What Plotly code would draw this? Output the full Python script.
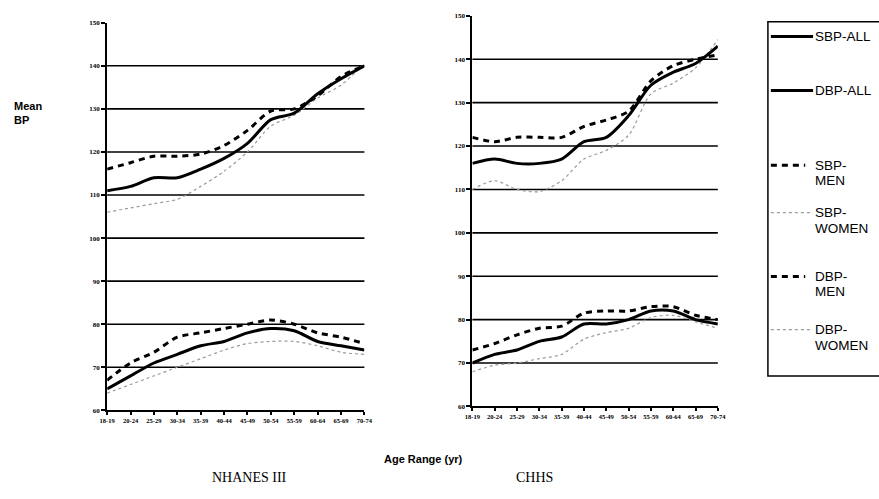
import plotly.graph_objects as go

# Age bands shared by both surveys
age_groups = ["18-19", "20-24", "25-29", "30-34", "35-39", "40-44",
              "45-49", "50-54", "55-59", "60-64", "65-69", "70-74"]

# NHANES III mean blood pressure (mmHg)
nh_sbp_all = [111, 112, 114, 114, 116, 118.5, 122, 127.5, 129, 133.5, 137, 140]
nh_dbp_all = [65, 68, 71, 73, 75, 76, 78, 79, 78.5, 76, 75, 74]
nh_sbp_men = [116, 117.5, 119, 119, 119.5, 121.5, 125, 129.5, 130, 133, 137.5, 140]
nh_sbp_women = [106, 107, 108, 109, 112, 115.5, 120, 126, 128.5, 132.5, 135.5, 140.5]
nh_dbp_men = [67, 71, 73.5, 77, 78, 79, 80, 81, 80, 78, 77, 75.5]
nh_dbp_women = [64, 66, 68, 70, 72, 74, 75.5, 76, 76, 75, 73.5, 73]

# CHHS mean blood pressure (mmHg)
ch_sbp_all = [116, 117, 116, 116, 117, 121, 122, 127, 134, 137, 139, 143]
ch_dbp_all = [70, 72, 73, 75, 76, 79, 79, 80, 82, 82, 80, 79]
ch_sbp_men = [122, 121, 122, 122, 122, 124.5, 126, 128, 135, 138.5, 140, 141]
ch_sbp_women = [110, 112, 110, 109.5, 112, 117, 119, 122.5, 132, 134.5, 138, 144.5]
ch_dbp_men = [73, 74.5, 76.5, 78, 78.5, 81.5, 82, 82, 83, 83, 81, 80]
ch_dbp_women = [68, 69.5, 70, 71, 72, 75.5, 77, 78, 80.5, 81, 79.5, 78]

y_ticks = list(range(60, 151, 10))
grid_levels = list(range(70, 141, 10))

W, H = 879, 499

styles = {
    "all": dict(color="black", width=3),
    "men": dict(color="black", width=3, dash="6px,5px"),
    "women": dict(color="#9a9a9a", width=1.2, dash="dot"),
}

xi = list(range(len(age_groups)))

fig = go.Figure()

def add_series(ys, kind, xa, ya):
    fig.add_trace(go.Scatter(
        x=xi, y=ys, mode="lines", line=dict(shape="spline", smoothing=0.8, **styles[kind]),
        xaxis=xa, yaxis=ya, showlegend=False, hoverinfo="skip"))

for ys, kind in [(nh_sbp_women, "women"), (nh_dbp_women, "women"),
                 (nh_sbp_men, "men"), (nh_dbp_men, "men"),
                 (nh_sbp_all, "all"), (nh_dbp_all, "all")]:
    add_series(ys, kind, "x", "y")

for ys, kind in [(ch_sbp_women, "women"), (ch_dbp_women, "women"),
                 (ch_sbp_men, "men"), (ch_dbp_men, "men"),
                 (ch_sbp_all, "all"), (ch_dbp_all, "all")]:
    add_series(ys, kind, "x2", "y2")

def px_x(v):
    return v / W

def px_y(v):
    return 1 - v / H

tick_font = dict(family="Liberation Serif", size=6.5, color="black", weight="bold")

xaxis_common = dict(
    tickmode="array", tickvals=xi, ticktext=age_groups, range=[0, len(age_groups) - 1],
    showgrid=False, zeroline=False, showline=True, linecolor="black", linewidth=2,
    ticks="outside", ticklen=3, tickwidth=1.5, tickcolor="black", tickfont=tick_font,
    tickangle=0,
)
yaxis_common = dict(
    tickmode="array", tickvals=y_ticks, range=[60, 150],
    showgrid=False, zeroline=False, showline=True, linecolor="black", linewidth=2,
    ticks="outside", ticklen=4, tickwidth=1.5, tickcolor="black",
    tickfont=dict(tick_font, size=7),
)

fig.update_layout(
    width=W, height=H, margin=dict(l=0, r=0, t=0, b=0),
    paper_bgcolor="white", plot_bgcolor="white",
    xaxis=dict(domain=[px_x(101), px_x(363)], anchor="y", **xaxis_common),
    yaxis=dict(domain=[px_y(413), px_y(19)], anchor="x", **yaxis_common),
    xaxis2=dict(domain=[px_x(473), px_x(723)], anchor="y2", **xaxis_common),
    yaxis2=dict(domain=[px_y(409), px_y(12)], anchor="x2", **yaxis_common),
)

shapes = []
# horizontal reference lines in each panel
for ax in ["", "2"]:
    for g in grid_levels:
        shapes.append(dict(type="line", xref=f"x{ax} domain", yref=f"y{ax}",
                           x0=0, x1=1, y0=g, y1=g, line=dict(color="black", width=1.6),
                           layer="below"))

# legend frame (runs off the right edge)
shapes.append(dict(type="rect", xref="paper", yref="paper",
                   x0=px_x(774), x1=px_x(890), y0=px_y(378), y1=px_y(18),
                   line=dict(color="black", width=1.5)))

# (text lines, style, sample y, y of each text line)
legend_items = [
    (["SBP-ALL"], "all", 33, [33]),
    (["DBP-ALL"], "all", 88, [88]),
    (["SBP-", "MEN"], "men", 164, [164, 179]),
    (["SBP-", "WOMEN"], "women", 212, [212, 228]),
    (["DBP-", "MEN"], "men", 277, [277, 292]),
    (["DBP-", "WOMEN"], "women", 331, [331, 347]),
]
annotations = []
for lines, kind, ly, tys in legend_items:
    st = styles[kind]
    shapes.append(dict(type="line", xref="paper", yref="paper",
                       x0=px_x(777), x1=px_x(820 if kind != "men" else 812),
                       y0=px_y(ly), y1=px_y(ly),
                       line=dict(color=st["color"], width=st["width"] if kind != "women" else 1.2,
                                 dash=st.get("dash", "solid"))))
    for txt, ty in zip(lines, tys):
        annotations.append(dict(text=txt, xref="paper", yref="paper", x=px_x(820), y=px_y(ty),
                                xanchor="left", yanchor="middle", showarrow=False, align="left",
                                font=dict(family="Liberation Sans", size=13.5, color="black")))

annotations += [
    dict(text="<b>Mean<br>BP</b>", xref="paper", yref="paper", x=px_x(4), y=px_y(111),
         xanchor="left", yanchor="middle", showarrow=False, align="left",
         font=dict(family="Liberation Sans", size=11, color="black")),
    dict(text="<b>Age Range (yr)</b>", xref="paper", yref="paper", x=px_x(423), y=px_y(462),
         xanchor="center", yanchor="middle", showarrow=False,
         font=dict(family="Liberation Sans", size=11, color="black")),
    dict(text="NHANES III", xref="paper", yref="paper", x=px_x(246), y=px_y(481),
         xanchor="center", yanchor="middle", showarrow=False,
         font=dict(family="Liberation Serif", size=14, color="black")),
    dict(text="CHHS", xref="paper", yref="paper", x=px_x(536), y=px_y(481),
         xanchor="center", yanchor="middle", showarrow=False,
         font=dict(family="Liberation Serif", size=14, color="black")),
]

fig.update_layout(shapes=shapes, annotations=annotations)

fig.write_html("out.html")
